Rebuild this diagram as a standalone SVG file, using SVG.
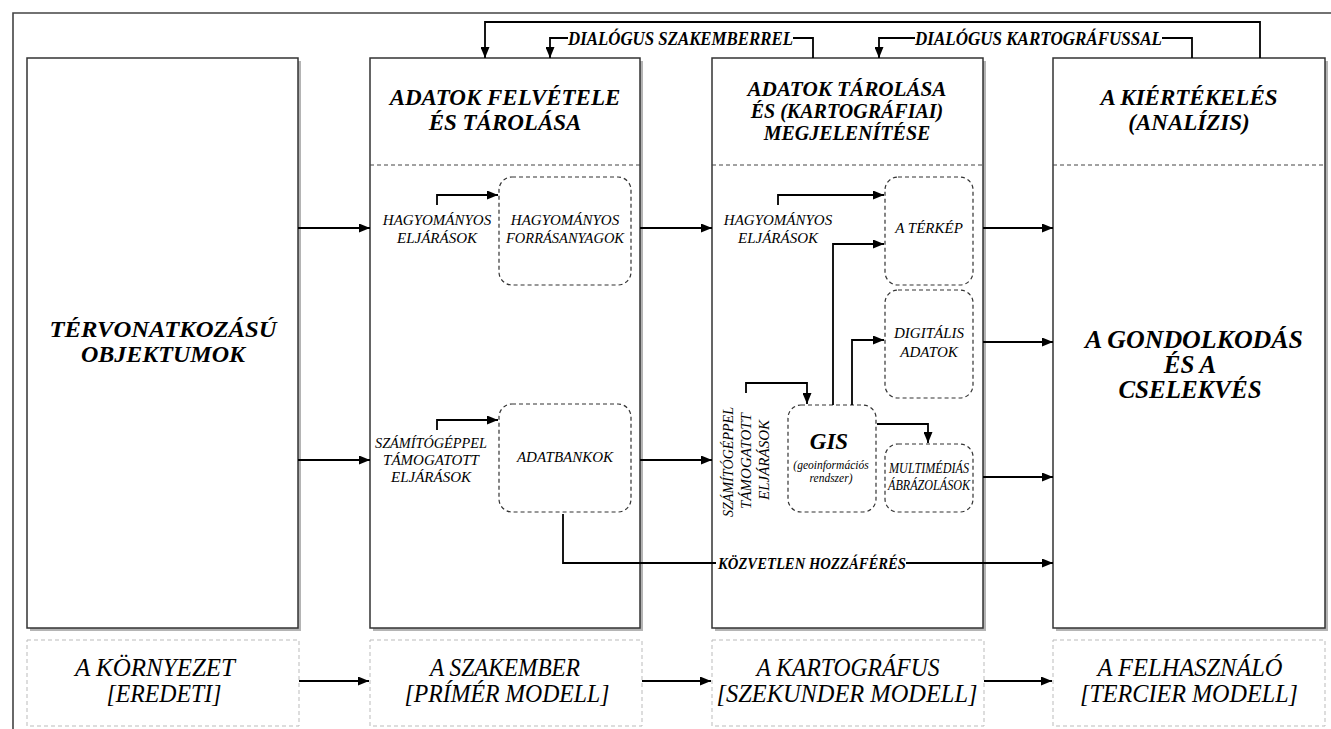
<svg xmlns="http://www.w3.org/2000/svg" width="1331" height="729" viewBox="0 0 1331 729">
<defs>
<marker id="ah" viewBox="0 0 11 9" markerWidth="11" markerHeight="9" refX="11" refY="4.5" orient="auto" markerUnits="userSpaceOnUse">
<path d="M0,0 L11,4.5 L0,9 z" fill="#000"/>
</marker>
<style>
.frame{fill:none;stroke:#444;stroke-width:1.6}
.shadow{fill:#b4b4b4}
.box{fill:#fff;stroke:#333;stroke-width:1.5}
.sep{stroke:#444;stroke-width:1;stroke-dasharray:4 3}
.inner{fill:none;stroke:#333;stroke-width:1.2;stroke-dasharray:4 3}
.lower{fill:#fff;stroke:#bbb;stroke-width:1;stroke-dasharray:4 3}
.conn{fill:none;stroke:#000;stroke-width:1.8}
.arr{marker-end:url(#ah)}
text{font-family:"Liberation Serif","Times New Roman",serif;font-style:italic;fill:#000;text-anchor:middle}
.h{font-weight:bold;font-size:23px}
.h3{font-weight:bold;font-size:20px}
.big{font-weight:bold;font-size:24px}
.s{font-size:15px}
.lbl{font-weight:bold;font-size:18px}
.bt{font-size:24.5px}
</style>
</defs>

<path class="frame" d="M1331,13 H13 V729"/>

<g id="col1">
<rect class="shadow" x="30" y="61" width="271" height="570"/>
<rect class="box" x="27" y="58" width="271" height="570"/>
<text class="big" x="163" y="337" textLength="227" lengthAdjust="spacingAndGlyphs">TÉRVONATKOZÁSÚ</text>
<text class="big" x="163" y="362">OBJEKTUMOK</text>
</g>

<g id="col2">
<rect class="shadow" x="373" y="61" width="270" height="570"/>
<rect class="box" x="370" y="58" width="270" height="570"/>
<line class="sep" x1="370" y1="165" x2="640" y2="165"/>
<text class="h" x="505" y="105">ADATOK FELVÉTELE</text>
<text class="h" x="505" y="130">ÉS TÁROLÁSA</text>
</g>

<g id="col2-trad-label">
<text class="s" x="437" y="225">HAGYOMÁNYOS</text>
<text class="s" x="437" y="243">ELJÁRÁSOK</text>
</g>
<g id="col2-sources">
<rect class="inner" x="499" y="177" width="132" height="108" rx="13"/>
<text class="s" x="565" y="225">HAGYOMÁNYOS</text>
<text class="s" x="565" y="243" textLength="118" lengthAdjust="spacingAndGlyphs">FORRÁSANYAGOK</text>
</g>
<g id="col2-comp-label">
<text class="s" x="431" y="448" textLength="112" lengthAdjust="spacingAndGlyphs">SZÁMÍTÓGÉPPEL</text>
<text class="s" x="431" y="465">TÁMOGATOTT</text>
<text class="s" x="431" y="482">ELJÁRÁSOK</text>
</g>
<g id="col2-databank">
<rect class="inner" x="499" y="404" width="132" height="108" rx="13"/>
<text class="s" x="565" y="462">ADATBANKOK</text>
</g>

<g id="col3">
<rect class="shadow" x="715" y="61" width="271" height="570"/>
<rect class="box" x="712" y="58" width="271" height="570"/>
<line class="sep" x1="712" y1="165" x2="983" y2="165"/>
<text class="h3" x="847" y="96" textLength="199" lengthAdjust="spacingAndGlyphs">ADATOK TÁROLÁSA</text>
<text class="h3" x="847" y="118">ÉS (KARTOGRÁFIAI)</text>
<text class="h3" x="847" y="140">MEGJELENÍTÉSE</text>
</g>

<g id="col3-trad-label">
<text class="s" x="778" y="225">HAGYOMÁNYOS</text>
<text class="s" x="778" y="243">ELJÁRÁSOK</text>
</g>
<g id="col3-map">
<rect class="inner" x="885" y="177" width="88" height="108" rx="13"/>
<text class="s" x="929" y="233">A TÉRKÉP</text>
</g>
<g id="col3-digital">
<rect class="inner" x="885" y="290" width="88" height="108" rx="13"/>
<text class="s" x="929" y="338">DIGITÁLIS</text>
<text class="s" x="929" y="357">ADATOK</text>
</g>
<g id="col3-gis">
<rect class="inner" x="788" y="405" width="88" height="107" rx="13"/>
<text x="829" y="449" style="font-weight:bold;font-size:23px">GIS</text>
<text x="831" y="469" style="font-size:11.5px">(geoinformációs</text>
<text x="831" y="482" style="font-size:11.5px">rendszer)</text>
</g>
<g id="col3-multimedia">
<rect class="inner" x="885" y="444" width="88" height="68" rx="13"/>
<text class="s" x="929" y="473" textLength="80" lengthAdjust="spacingAndGlyphs">MULTIMÉDIÁS</text>
<text class="s" x="929" y="490" textLength="82" lengthAdjust="spacingAndGlyphs">ÁBRÁZOLÁSOK</text>
</g>
<g id="col3-comp-label">
<text class="s" transform="translate(733,462) rotate(-90)" textLength="110" lengthAdjust="spacingAndGlyphs">SZÁMÍTÓGÉPPEL</text>
<text class="s" transform="translate(751,461) rotate(-90)">TÁMOGATOTT</text>
<text class="s" transform="translate(769,460) rotate(-90)">ELJÁRÁSOK</text>
</g>

<g id="col4">
<rect class="shadow" x="1056" y="61" width="272" height="570"/>
<rect class="box" x="1053" y="58" width="272" height="570"/>
<line class="sep" x1="1053" y1="165" x2="1325" y2="165"/>
<text class="h" x="1189" y="105">A KIÉRTÉKELÉS</text>
<text class="h" x="1189" y="130">(ANALÍZIS)</text>
<text class="big" x="1194" y="348" style="font-size:25px" textLength="218" lengthAdjust="spacingAndGlyphs">A GONDOLKODÁS</text>
<text class="big" x="1190" y="373" style="font-size:25px">ÉS A</text>
<text class="big" x="1190" y="398" style="font-size:25px">CSELEKVÉS</text>
</g>

<g id="lower1">
<rect class="lower" x="27" y="640" width="272" height="86"/>
<text class="bt" x="155" y="676" textLength="160" lengthAdjust="spacingAndGlyphs">A KÖRNYEZET</text>
<text class="bt" x="164" y="702" textLength="115" lengthAdjust="spacingAndGlyphs">[EREDETI]</text>
</g>
<g id="lower2">
<rect class="lower" x="370" y="640" width="272" height="86"/>
<text class="bt" x="505" y="676" textLength="150" lengthAdjust="spacingAndGlyphs">A SZAKEMBER</text>
<text class="bt" x="507" y="702" textLength="205" lengthAdjust="spacingAndGlyphs">[PRÍMÉR MODELL]</text>
</g>
<g id="lower3">
<rect class="lower" x="712" y="640" width="272" height="86"/>
<text class="bt" x="848" y="676" textLength="183" lengthAdjust="spacingAndGlyphs">A KARTOGRÁFUS</text>
<text class="bt" x="847" y="702" textLength="261" lengthAdjust="spacingAndGlyphs">[SZEKUNDER MODELL]</text>
</g>
<g id="lower4">
<rect class="lower" x="1053" y="640" width="272" height="86"/>
<text class="bt" x="1190" y="676" textLength="185" lengthAdjust="spacingAndGlyphs">A FELHASZNÁLÓ</text>
<text class="bt" x="1189" y="702" textLength="218" lengthAdjust="spacingAndGlyphs">[TERCIER MODELL]</text>
</g>

<g id="connectors">
<path class="conn arr" d="M298,228 H370"/>
<path class="conn arr" d="M298,460 H370"/>
<path class="conn arr" d="M437,205 V195 H498"/>
<path class="conn arr" d="M437,430 V420 H498"/>
<path class="conn arr" d="M640,228 H712"/>
<path class="conn arr" d="M640,460 H712"/>
<path class="conn" d="M563,514 V563 H716"/>
<text class="lbl" x="906" y="569" style="text-anchor:end;font-size:17px" textLength="188" lengthAdjust="spacingAndGlyphs">KÖZVETLEN HOZZÁFÉRÉS</text>
<path class="conn arr" d="M906,563 H1053"/>
<path class="conn arr" d="M778,205 V195 H884"/>
<path class="conn arr" d="M833,405 V244 H884"/>
<path class="conn arr" d="M852,405 V340 H884"/>
<path class="conn arr" d="M746,393 V383 H807 V404"/>
<path class="conn arr" d="M877,424 H928 V443"/>
<path class="conn arr" d="M983,228 H1053"/>
<path class="conn arr" d="M983,342 H1053"/>
<path class="conn arr" d="M983,477 H1053"/>
<path class="conn arr" d="M1260,58 V22 H485 V58"/>
<path class="conn" d="M813,58 V38 H793"/>
<text class="lbl" x="680.5" y="45" textLength="225" lengthAdjust="spacingAndGlyphs">DIALÓGUS SZAKEMBERREL</text>
<path class="conn arr" d="M568,38 H550 V58"/>
<path class="conn" d="M1192,58 V38 H1162"/>
<text class="lbl" x="1038.5" y="45" textLength="247" lengthAdjust="spacingAndGlyphs">DIALÓGUS KARTOGRÁFUSSAL</text>
<path class="conn arr" d="M915,38 H879 V58"/>
<path class="conn arr" d="M299,681 H369"/>
<path class="conn arr" d="M642,681 H711"/>
<path class="conn arr" d="M984,681 H1052"/>
</g>
</svg>
